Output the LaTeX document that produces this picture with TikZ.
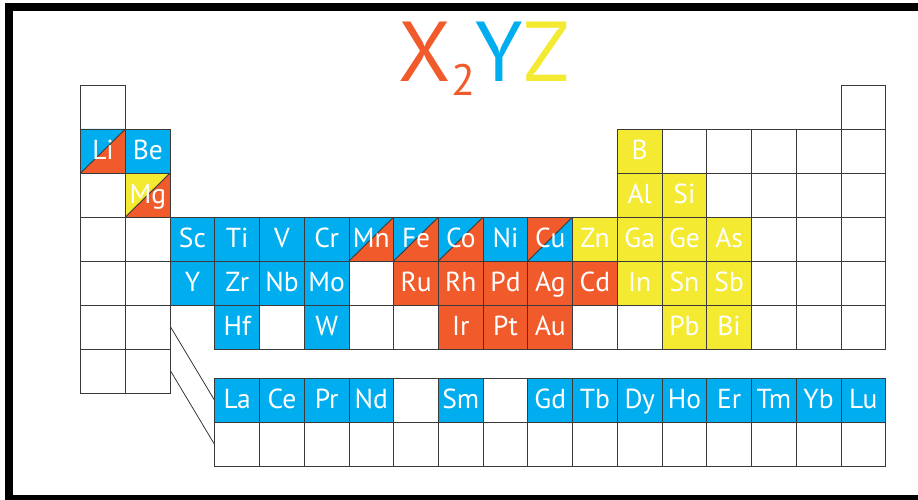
\documentclass[tikz,border=0pt]{standalone}
\usepackage{fontspec}
\setmainfont{PT Sans}
\definecolor{elblue}{HTML}{00ADEE}
\definecolor{elorange}{HTML}{F15A2B}
\definecolor{elyellow}{HTML}{F4EA31}
\definecolor{gridline}{HTML}{3A3A3A}
\tikzset{
  cell/.style={draw=gridline, line width=0.9pt, minimum width=44.72pt, minimum height=44pt,
    inner sep=0pt, text=white, font=\fontsize{27.5}{27.5}\selectfont, text height=20pt, text depth=4pt},
  em/.style={cell, fill=white},
  bl/.style={cell, fill=elblue},
  or/.style={cell, fill=elorange},
  ye/.style={cell, fill=elyellow},
  halves/.style 2 args={cell, path picture={
      \fill[#1] (path picture bounding box.south west) |- (path picture bounding box.north east) -- cycle;
      \fill[#2] (path picture bounding box.south west) -| (path picture bounding box.north east) -- cycle;
      \draw[gridline, line width=0.9pt] (path picture bounding box.south west) -- (path picture bounding box.north east);}},
  bo/.style={halves={elblue}{elorange}},
  ob/.style={halves={elorange}{elblue}},
  yo/.style={halves={elyellow}{elorange}},
  leader/.style={draw=gridline, line width=0.8pt},
  frame/.style={draw=black, line width=8pt}
}
\begin{document}
\begin{tikzpicture}[x=1pt, y=-1pt]
\useasboundingbox (0,0) rectangle (918,500);
\clip (0,0) rectangle (918,500);
\fill[white] (0,0) rectangle (918,500);
\draw[frame] (9,7) rectangle (940,499);

% title formula
\node[anchor=base, inner sep=0pt, font=\fontsize{85}{85}\selectfont] (title) at (484,81.7)
  {\color{elorange}X\kern1pt\raisebox{-14pt}{\fontsize{44}{44}\selectfont 2}\color{elblue}Y\color{elyellow}Z};

% main table: column/row/symbol/style
\foreach \c/\r/\t/\s in {
  1/1/{}/em, 18/1/{}/em,
  1/2/Li/bo, 2/2/Be/bl, 13/2/B/ye, 14/2/{}/em, 15/2/{}/em, 16/2/{}/em, 17/2/{}/em, 18/2/{}/em,
  1/3/{}/em, 2/3/Mg/yo, 13/3/Al/ye, 14/3/Si/ye, 15/3/{}/em, 16/3/{}/em, 17/3/{}/em, 18/3/{}/em,
  1/4/{}/em, 2/4/{}/em, 3/4/Sc/bl, 4/4/Ti/bl, 5/4/V/bl, 6/4/Cr/bl, 7/4/Mn/bo, 8/4/Fe/bo, 9/4/Co/bo,
  10/4/Ni/bl, 11/4/Cu/ob, 12/4/Zn/ye, 13/4/Ga/ye, 14/4/Ge/ye, 15/4/As/ye, 16/4/{}/em, 17/4/{}/em, 18/4/{}/em,
  1/5/{}/em, 2/5/{}/em, 3/5/Y/bl, 4/5/Zr/bl, 5/5/Nb/bl, 6/5/Mo/bl, 7/5/{}/em, 8/5/Ru/or, 9/5/Rh/or,
  10/5/Pd/or, 11/5/Ag/or, 12/5/Cd/or, 13/5/In/ye, 14/5/Sn/ye, 15/5/Sb/ye, 16/5/{}/em, 17/5/{}/em, 18/5/{}/em,
  1/6/{}/em, 2/6/{}/em, 4/6/Hf/bl, 5/6/{}/em, 6/6/W/bl, 7/6/{}/em, 8/6/{}/em, 9/6/Ir/or, 10/6/Pt/or,
  11/6/Au/or, 12/6/{}/em, 13/6/{}/em, 14/6/Pb/ye, 15/6/Bi/ye, 16/6/{}/em, 17/6/{}/em, 18/6/{}/em,
  1/7/{}/em, 2/7/{}/em}
  \node[\s] (c-\c-\r) at ({103.06+44.72*(\c-1)}, {107+44*(\r-1)}) {\t};

% lanthanides
\foreach \k/\t/\s in {1/La/bl, 2/Ce/bl, 3/Pr/bl, 4/Nd/bl, 5/{}/em, 6/Sm/bl, 7/{}/em, 8/Gd/bl,
  9/Tb/bl, 10/Dy/bl, 11/Ho/bl, 12/Er/bl, 13/Tm/bl, 14/Yb/bl, 15/Lu/bl}
  \node[\s] (la-\k) at ({103.06+44.72*(\k+2)}, 400) {\t};

% actinides
\foreach \k in {1,...,15}
  \node[em] (ac-\k) at ({103.06+44.72*(\k+2)}, 444.2) {};

% leaders to the f-block rows
\draw[leader] (c-2-6.east) -- (la-1.west);
\draw[leader] (c-2-7.east) -- (ac-1.west);
\end{tikzpicture}
\end{document}
